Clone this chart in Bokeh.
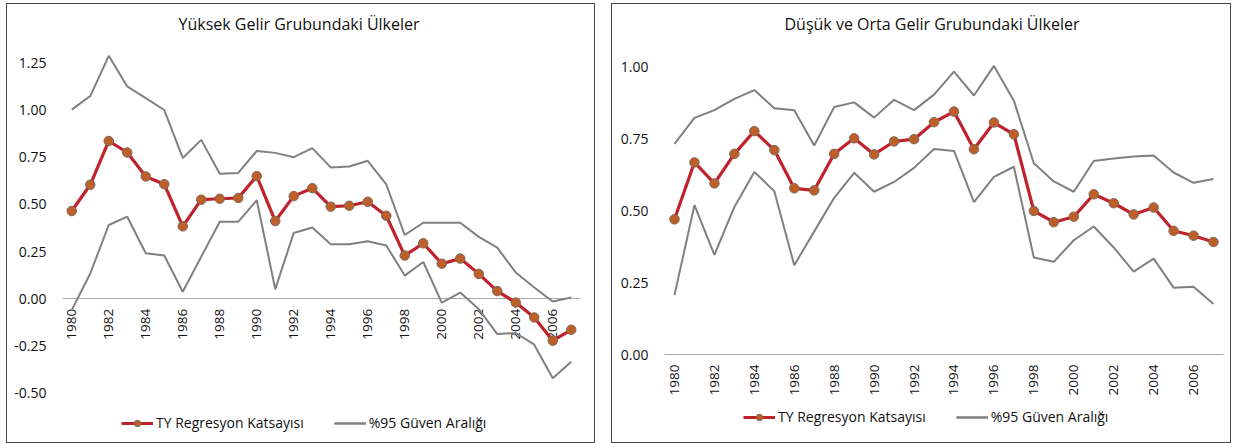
import math
from bokeh.plotting import figure
from bokeh.models import (Range1d, FixedTicker, NumeralTickFormatter, Legend, LegendItem,
                          LinearAxis)
from bokeh.layouts import row, column
from bokeh.embed import file_html
from bokeh.resources import INLINE

years = list(range(1980, 2008))
year_ticks = list(range(1980, 2007, 2))

high_title = "Yüksek Gelir Grubundaki Ülkeler"
high_coef = [0.465, 0.604, 0.836, 0.775, 0.648, 0.607, 0.384, 0.525, 0.530, 0.534,
             0.650, 0.412, 0.544, 0.586, 0.488, 0.493, 0.514, 0.440, 0.229, 0.294,
             0.186, 0.213, 0.132, 0.041, -0.020, -0.099, -0.222, -0.164]
high_upper = [1.002, 1.074, 1.287, 1.125, 1.063, 1.000, 0.746, 0.842, 0.662, 0.667,
              0.783, 0.773, 0.750, 0.798, 0.696, 0.701, 0.731, 0.606, 0.338, 0.403,
              0.403, 0.403, 0.328, 0.271, 0.139, 0.060, -0.014, 0.007]
high_lower = [-0.060, 0.134, 0.391, 0.435, 0.241, 0.229, 0.037, 0.223, 0.408, 0.408,
              0.523, 0.051, 0.349, 0.378, 0.289, 0.289, 0.305, 0.282, 0.123, 0.195,
              -0.020, 0.033, -0.054, -0.187, -0.181, -0.243, -0.421, -0.333]
high_yticks = [-0.5, -0.25, 0.0, 0.25, 0.5, 0.75, 1.0, 1.25]

low_title = "Düşük ve Orta Gelir Grubundaki Ülkeler"
low_coef = [0.471, 0.669, 0.596, 0.699, 0.778, 0.712, 0.579, 0.572, 0.699, 0.753,
            0.697, 0.742, 0.750, 0.809, 0.846, 0.715, 0.808, 0.767, 0.500, 0.461,
            0.480, 0.558, 0.527, 0.488, 0.512, 0.431, 0.414, 0.392]
low_upper = [0.734, 0.824, 0.851, 0.890, 0.921, 0.858, 0.851, 0.728, 0.862, 0.878,
             0.825, 0.887, 0.851, 0.905, 0.985, 0.902, 1.005, 0.884, 0.666, 0.603,
             0.567, 0.674, 0.683, 0.690, 0.693, 0.634, 0.598, 0.611]
low_lower = [0.207, 0.520, 0.347, 0.514, 0.636, 0.569, 0.311, 0.429, 0.546, 0.633,
             0.567, 0.601, 0.650, 0.716, 0.709, 0.531, 0.619, 0.654, 0.338, 0.323,
             0.398, 0.446, 0.373, 0.289, 0.334, 0.233, 0.236, 0.176]
low_yticks = [0.0, 0.25, 0.5, 0.75, 1.0]

coef_label = "TY Regresyon Katsayısı"
ci_label = "%95 Güven Aralığı"

FONT = "Open Sans"
RED = "#C0222B"
MARK = "#BF5F28"
GRAY = "#808080"
TXT = "#111111"


def make_panel(title, coef, upper, lower, yticks, yrange, width, border_left,
               border_right, title_offset, legend_x, legend_y):
    p = figure(width=width, height=438, output_backend="svg", toolbar_location=None,
               x_range=Range1d(1979.5, 2007.5), y_range=Range1d(*yrange),
               x_axis_location=None,
               min_border_left=border_left, min_border_right=border_right,
               min_border_top=36, min_border_bottom=4)
    p.outline_line_color = None
    p.background_fill_color = "white"
    p.border_fill_color = "white"
    p.grid.visible = False

    p.title.text = title
    p.title.align = "left"
    p.title.offset = title_offset
    p.title.standoff = 13
    p.title.text_font = FONT
    p.title.text_font_size = "16px"
    p.title.text_font_style = "normal"
    p.title.text_color = TXT

    xa = LinearAxis(fixed_location=0)
    p.add_layout(xa, "below")
    xa.ticker = FixedTicker(ticks=year_ticks)
    xa.major_label_orientation = math.pi / 2
    xa.axis_line_color = "#A6A6A6"
    xa.axis_line_width = 1
    xa.major_tick_line_color = None
    xa.minor_tick_line_color = None
    xa.major_tick_out = 0
    xa.major_label_standoff = 10
    xa.major_label_text_font = FONT
    xa.major_label_text_font_size = "13.5px"
    xa.major_label_text_color = TXT
    xa.level = "underlay"

    r_up = p.line(years, upper, line_color=GRAY, line_width=2)
    r_lo = p.line(years, lower, line_color=GRAY, line_width=2)
    r_line = p.line(years, coef, line_color=RED, line_width=3.2)
    r_pts = p.scatter(years, coef, size=9.5, fill_color=MARK, line_color="#7a6a60",
                      line_width=1)

    ya = p.yaxis[0]
    ya.ticker = FixedTicker(ticks=yticks)
    ya.formatter = NumeralTickFormatter(format="0.00")
    ya.axis_line_color = None
    ya.major_tick_line_color = None
    ya.minor_tick_line_color = None
    ya.major_tick_out = 0
    ya.major_label_standoff = 16
    ya.major_label_text_font = FONT
    ya.major_label_text_font_size = "14px"
    ya.major_label_text_color = TXT

    legend = Legend(items=[LegendItem(label=coef_label, renderers=[r_line, r_pts]),
                           LegendItem(label=ci_label, renderers=[r_up, r_lo])],
                    orientation="horizontal", location=(legend_x, legend_y),
                    border_line_color=None, background_fill_alpha=0,
                    padding=0, margin=0, spacing=30, glyph_width=32,
                    glyph_height=16, label_standoff=3, label_height=16,
                    label_text_font=FONT, label_text_font_size="14px",
                    label_text_color=TXT)
    p.add_layout(legend, "center")
    return p


p1 = make_panel(high_title, high_coef, high_upper, high_lower, high_yticks,
                (-0.740, 1.363), 587, 55, 14, 116, 59, 6)
p2 = make_panel(low_title, low_coef, low_upper, low_lower, low_yticks,
                (-0.292, 1.090), 618, 52, 7, 120, 79, 12)

box_style = {"border": "1px solid #454545"}
b1 = column(p1, styles=box_style)
b2 = column(p2, styles=box_style)
layout = row(b1, b2, spacing=16)
layout.margin = (3, 0, 0, 6)
open("out.html", "w").write(file_html(layout, INLINE))
